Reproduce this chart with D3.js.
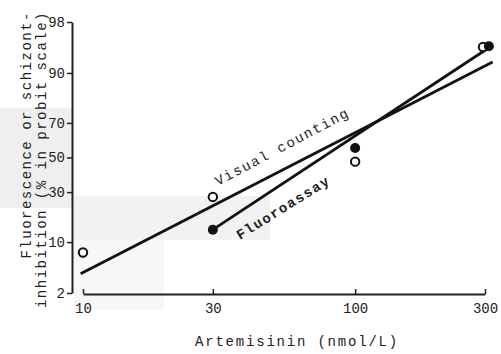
<!DOCTYPE html>
<html>
<head>
<meta charset="utf-8">
<script src="https://cdn.jsdelivr.net/npm/d3@7"></script>
<style>
  body { margin: 0; background: #fff; }
  svg { display: block; }
  text { font-family: "Liberation Mono", "DejaVu Sans Mono", monospace; fill: #222; }
</style>
</head>
<body>
<svg id="chart" width="501" height="354"></svg>
<script>
// concentrations on the x axis (nmol/L)
const xTicks = [10, 30, 100, 300];
// y ticks in percent (probit scale)
const yTicks = [2, 10, 30, 50, 70, 90, 98];

// Visual counting, open circles
const visualConc = [10, 30, 100, 295];
const visualPct = [7.5, 27.5, 47.5, 95.3];
// Fluoroassay, filled circles
const fluoroConc = [30, 100, 310];
const fluoroPct = [13.7, 55.7, 95.4];

// fitted lines (end points)
const visualFitConc = [9.8, 320];
const visualFitPct = [3.9, 92.6];
const fluoroFitConc = [30, 305];
const fluoroFitPct = [13.7, 95.0];

// inverse normal cdf (Acklam), used for the probit axis
function probit(p) {
  const a = [-39.69683028665376, 220.9460984245205, -275.9285104469687, 138.3577518672690, -30.66479806614716, 2.506628277459239];
  const b = [-54.47609879822406, 161.5858368580409, -155.6989798598866, 66.80131188771972, -13.28068155922803];
  const c = [-0.007784894002430293, -0.3223964580411365, -2.400758277161838, -2.549732539343734, 4.374664141464968, 2.938163982698783];
  const d = [0.007784695709041462, 0.3224671290700398, 2.445134137142996, 3.754408661907416];
  const pl = 0.02425;
  if (p < pl) {
    const q = Math.sqrt(-2 * Math.log(p));
    return (((((c[0]*q+c[1])*q+c[2])*q+c[3])*q+c[4])*q+c[5]) / ((((d[0]*q+d[1])*q+d[2])*q+d[3])*q+1);
  }
  if (p <= 1 - pl) {
    const q = p - 0.5, r = q * q;
    return (((((a[0]*r+a[1])*r+a[2])*r+a[3])*r+a[4])*r+a[5])*q / (((((b[0]*r+b[1])*r+b[2])*r+b[3])*r+b[4])*r+1);
  }
  const q = Math.sqrt(-2 * Math.log(1 - p));
  return -(((((c[0]*q+c[1])*q+c[2])*q+c[3])*q+c[4])*q+c[5]) / ((((d[0]*q+d[1])*q+d[2])*q+d[3])*q+1);
}

const svg = d3.select("#chart");

// scan smudges
const smudge = svg.append("g").attr("fill", "#efefef");
smudge.append("rect").attr("x", 0).attr("y", 108).attr("width", 72).attr("height", 100);
smudge.append("rect").attr("x", 74).attr("y", 196).attr("width", 196).attr("height", 44).attr("fill", "#f2f2f2");
smudge.append("rect").attr("x", 74).attr("y", 240).attr("width", 90).attr("height", 70).attr("fill", "#f7f7f7");

const x = d3.scaleLog().domain([10, 300]).range([83, 485]);
const yLin = d3.scaleLinear().domain([probit(0.02), probit(0.98)]).range([293, 22]);
const y = (pct) => yLin(probit(pct / 100));

// y axis
const yAxis = svg.append("g")
  .attr("transform", "translate(72,0)")
  .call(d3.axisLeft(yLin)
    .tickValues(yTicks.map((p) => probit(p / 100)))
    .tickFormat((d, i) => yTicks[i])
    .tickSizeInner(5)
    .tickSizeOuter(0)
    .tickPadding(2));
yAxis.select(".domain").attr("stroke", "#222").attr("stroke-width", 2);
yAxis.selectAll(".tick line").attr("stroke", "#222").attr("stroke-width", 1.5);
yAxis.selectAll(".tick text").style("font-size", "14px").attr("fill", "#333");

// x axis, ticks pointing up
const xAxis = svg.append("g")
  .attr("transform", "translate(0,294)")
  .call(d3.axisBottom(x)
    .tickValues(xTicks)
    .tickFormat(d3.format("d"))
    .tickSizeInner(-5)
    .tickSizeOuter(0)
    .tickPadding(9));
xAxis.select(".domain").attr("stroke", "#222").attr("stroke-width", 2);
xAxis.selectAll(".tick line").attr("stroke", "#222").attr("stroke-width", 1.5);
xAxis.selectAll(".tick text").style("font-size", "14px").attr("fill", "#333");

// fit lines
const line = d3.line().x((d) => x(d[0])).y((d) => y(d[1]));
svg.append("path")
  .datum(d3.zip(visualFitConc, visualFitPct))
  .attr("d", line)
  .attr("fill", "none")
  .attr("stroke", "#111")
  .attr("stroke-width", 2.8);
svg.append("path")
  .datum(d3.zip(fluoroFitConc, fluoroFitPct))
  .attr("d", line)
  .attr("fill", "none")
  .attr("stroke", "#111")
  .attr("stroke-width", 2.8);

// points
svg.append("g")
  .selectAll("circle")
  .data(d3.zip(visualConc, visualPct))
  .join("circle")
  .attr("cx", (d) => x(d[0]))
  .attr("cy", (d) => y(d[1]))
  .attr("r", 4.2)
  .attr("fill", "#fff")
  .attr("stroke", "#111")
  .attr("stroke-width", 2);
svg.append("g")
  .selectAll("circle")
  .data(d3.zip(fluoroConc, fluoroPct))
  .join("circle")
  .attr("cx", (d) => x(d[0]))
  .attr("cy", (d) => y(d[1]))
  .attr("r", 5)
  .attr("fill", "#111");

// line labels
svg.append("text")
  .attr("transform", "translate(218,186) rotate(-28)")
  .style("font-size", "14px")
  .style("letter-spacing", "1.6px")
  .text("Visual counting");
svg.append("text")
  .attr("transform", "translate(240,240) rotate(-32)")
  .style("font-size", "14px")
  .style("letter-spacing", "1.4px")
  .style("font-weight", "bold")
  .text("Fluoroassay");

// axis titles
svg.append("text")
  .attr("x", 297)
  .attr("y", 346)
  .attr("text-anchor", "middle")
  .style("font-size", "14px")
  .style("letter-spacing", "1.8px")
  .text("Artemisinin (nmol/L)");

const yTitle = ["Fluorescence or schizont-", "inhibition (% in probit scale)"];
svg.append("g")
  .selectAll("text")
  .data(yTitle)
  .join("text")
  .attr("transform", (d, i) => `translate(${31 + i * 15},11) rotate(-90)`)
  .attr("text-anchor", "end")
  .style("font-size", "14px")
  .style("letter-spacing", "1.5px")
  .text((d) => d);
</script>
</body>
</html>
